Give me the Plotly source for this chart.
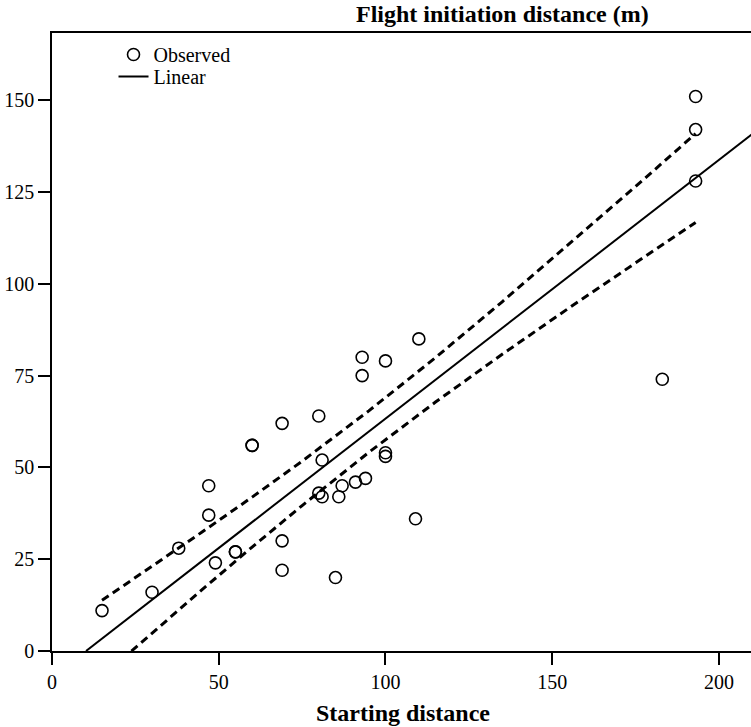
import plotly.graph_objects as go

# Observed data (starting distance, flight initiation distance)
obs_x = [15, 30, 38, 47, 47, 49, 55, 55, 60, 60, 69, 69, 69, 80, 80, 81, 81,
         85, 86, 87, 91, 93, 93, 94, 100, 100, 100, 109, 110, 183, 193, 193, 193]
obs_y = [11, 16, 28, 37, 45, 24, 27, 27, 56, 56, 62, 30, 22, 64, 43, 42, 52,
         20, 42, 45, 46, 80, 75, 47, 79, 54, 53, 36, 85, 74, 151, 142, 128]

# Linear fit line
fit_x = [10.2, 212]
fit_y = [0, 142.2]

# 95% confidence band
band_x = [15, 30, 45, 60, 75, 95, 115, 135, 155, 175, 193]
band_upper = [13.8, 23.0, 32.4, 41.9, 51.7, 65.4, 79.9, 95.1, 110.7, 126.5, 140.9]
band_lower = [-7.0, 4.9, 16.7, 28.3, 39.6, 54.1, 67.8, 80.8, 93.4, 105.7, 116.7]

x_ticks = [0, 50, 100, 150, 200]
y_ticks = [0, 25, 50, 75, 100, 125, 150]

FONT = "Liberation Serif, Times New Roman, serif"

fig = go.Figure()
fig.add_trace(go.Scatter(x=band_x, y=band_upper, mode="lines",
                         line=dict(color="black", width=3, dash="8px,5px"),
                         showlegend=False, hoverinfo="skip"))
fig.add_trace(go.Scatter(x=band_x, y=band_lower, mode="lines",
                         line=dict(color="black", width=3, dash="8px,5px"),
                         showlegend=False, hoverinfo="skip"))
fig.add_trace(go.Scatter(x=obs_x, y=obs_y, mode="markers", name="Observed",
                         legend="legend",
                         marker=dict(symbol="circle-open", size=12, color="black",
                                     line=dict(width=1.6, color="black"))))
fig.add_trace(go.Scatter(x=fit_x, y=fit_y, mode="lines", name="Linear",
                         legend="legend2",
                         line=dict(color="black", width=2)))

axis_common = dict(showgrid=False, zeroline=False, showline=True, linecolor="black",
                   linewidth=1.5, ticks="outside", ticklen=12, tickwidth=1.5,
                   tickcolor="black", tickfont=dict(family=FONT, size=20, color="black"))

fig.update_xaxes(range=[0, 209.6], tickvals=x_ticks, mirror=True, **axis_common)
fig.update_yaxes(range=[0, 168.3], tickvals=y_ticks, **axis_common)

legend_common = dict(xanchor="left", yanchor="top", bgcolor="rgba(0,0,0,0)",
                     font=dict(family=FONT, size=20, color="black"))

fig.update_layout(
    width=751, height=727,
    margin=dict(l=52, r=0, t=33, b=76),
    paper_bgcolor="white", plot_bgcolor="white",
    font=dict(family=FONT, size=20, color="black"),
    legend=dict(x=0.088, y=0.9968, **legend_common),
    legend2=dict(x=0.088, y=0.961, **legend_common),
    annotations=[
        dict(text="<b>Flight initiation distance (m)</b>", xref="paper", yref="paper",
             x=0.644, y=1.0308, xanchor="center", yanchor="middle", showarrow=False,
             font=dict(family=FONT, size=24, color="black")),
        dict(text="<b>Starting distance</b>", xref="paper", yref="paper",
             x=0.502, y=-0.1009, xanchor="center", yanchor="middle", showarrow=False,
             font=dict(family=FONT, size=24, color="black")),
    ],
)

fig.write_html("out.html")
